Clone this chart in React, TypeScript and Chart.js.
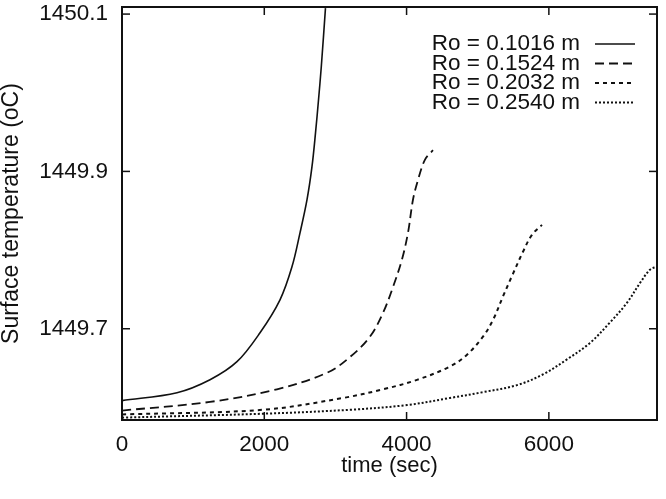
import React, { useEffect, useRef } from "react";
import { Chart, registerables } from "chart.js";
Chart.register(...registerables);

const seriesLabels = ["Ro = 0.1016 m", "Ro = 0.1524 m", "Ro = 0.2032 m", "Ro = 0.2540 m"];

const time1 = [0, 773, 1237, 1616, 1940, 2221, 2389, 2502, 2600, 2670, 2720, 2762, 2801, 2860];
const temp1 = [1449.6086, 1449.6187, 1449.6352, 1449.6581, 1449.6949, 1449.7368, 1449.7787, 1449.8219, 1449.8638, 1449.9057, 1449.9489, 1449.9908, 1450.0327, 1450.1076];

const time2 = [0, 1237, 2178, 2881, 3204, 3486, 3668, 3809, 3935, 4020, 4090, 4160, 4259, 4371];
const temp2 = [1449.596, 1449.607, 1449.623, 1449.644, 1449.664, 1449.69, 1449.72, 1449.753, 1449.788, 1449.822, 1449.864, 1449.889, 1449.915, 1449.927];

const time3 = [0, 1982, 3106, 3668, 4146, 4610, 4849, 5074, 5214, 5355, 5495, 5636, 5762, 5903];
const temp3 = [1449.591, 1449.597, 1449.612, 1449.623, 1449.635, 1449.652, 1449.667, 1449.69, 1449.711, 1449.741, 1449.7698, 1449.7978, 1449.8194, 1449.832];

const time4 = [0, 1982, 3204, 4006, 4610, 5074, 5552, 5917, 6254, 6578, 6859, 7098, 7280, 7421, 7519];
const temp4 = [1449.587, 1449.592, 1449.597, 1449.603, 1449.612, 1449.6194, 1449.6283, 1449.642, 1449.661, 1449.682, 1449.708, 1449.733, 1449.758, 1449.775, 1449.779];

const xTicks = [0, 2000, 4000, 6000];
const yTicks = [1449.7, 1449.9, 1450.1];

const INK = "#111";
const FONT = "'Liberation Sans', Arial, Helvetica, sans-serif";

const framePlugin = {
  id: "frame",
  afterDatasetsDraw(chart: any) {
    const { ctx, chartArea, scales } = chart;
    const { left, right, top, bottom } = chartArea;
    ctx.save();
    ctx.strokeStyle = INK;
    ctx.lineWidth = 2;
    ctx.setLineDash([]);
    ctx.strokeRect(left, top, right - left, bottom - top);
    ctx.lineWidth = 1.5;
    const tl = 8;
    const seg = (x1: number, y1: number, x2: number, y2: number) => {
      ctx.beginPath();
      ctx.moveTo(x1, y1);
      ctx.lineTo(x2, y2);
      ctx.stroke();
    };
    scales.x.ticks.forEach((t: any) => {
      const px = scales.x.getPixelForValue(t.value);
      seg(px, bottom, px, bottom - tl);
      seg(px, top, px, top + tl);
    });
    scales.y.ticks.forEach((t: any) => {
      const py = scales.y.getPixelForValue(t.value);
      seg(left, py, left + tl, py);
      seg(right, py, right - tl, py);
    });
    // legend
    ctx.font = `22.5px ${FONT}`;
    ctx.fillStyle = INK;
    ctx.textAlign = "right";
    ctx.textBaseline = "middle";
    chart.data.datasets.forEach((ds: any, i: number) => {
      const y = top + 37 + i * 19.5;
      ctx.fillText(ds.label, right - 77, y);
      ctx.save();
      ctx.lineWidth = ds.borderWidth;
      ctx.setLineDash(ds.borderDash || []);
      seg(right - 62, y, right - 22, y);
      ctx.restore();
    });
    ctx.restore();
  },
};

export default function App() {
  const ref = useRef<HTMLCanvasElement | null>(null);
  useEffect(() => {
    if (!ref.current) return;
    const mk = (xs: number[], ys: number[]) => xs.map((x, i) => ({ x, y: ys[i] }));
    const tickFont = { family: FONT, size: 22.5, lineHeight: 1.2 };
    const chart = new Chart(ref.current, {
      type: "line",
      data: {
        datasets: [
          { label: seriesLabels[0], data: mk(time1, temp1), borderColor: INK, borderWidth: 1.6, borderDash: [] },
          { label: seriesLabels[1], data: mk(time2, temp2), borderColor: INK, borderWidth: 1.8, borderDash: [9, 5] },
          { label: seriesLabels[2], data: mk(time3, temp3), borderColor: INK, borderWidth: 2, borderDash: [4, 4] },
          { label: seriesLabels[3], data: mk(time4, temp4), borderColor: INK, borderWidth: 2, borderDash: [2, 2] },
        ] as any,
      },
      options: {
        responsive: false,
        animation: false,
        layout: { padding: { left: 0, right: 9, top: 7, bottom: 0 } },
        plugins: { legend: { display: false }, tooltip: { enabled: false } },
        elements: { point: { radius: 0 }, line: { cubicInterpolationMode: "default", tension: 0.35, fill: false } },
        scales: {
          x: {
            type: "linear",
            min: 0,
            max: 7520,
            grid: { display: false, drawTicks: false },
            border: { display: false },
            afterBuildTicks: (s: any) => {
              s.ticks = xTicks.map((v) => ({ value: v }));
            },
            afterFit: (s: any) => {
              s.height = 79;
              s.paddingLeft = 0;
              s.paddingRight = 0;
            },
            ticks: {
              padding: 11,
              color: INK,
              font: tickFont,
              maxRotation: 0,
              autoSkip: false,
              callback: (v: any) => String(v),
            },
            title: {
              display: true,
              text: "time (sec)",
              color: INK,
              font: { family: FONT, size: 22, lineHeight: 1 },
              padding: { top: 0, bottom: 22 },
            },
          },
          y: {
            type: "linear",
            min: 1449.584,
            max: 1450.109,
            grid: { display: false, drawTicks: false },
            border: { display: false },
            afterBuildTicks: (s: any) => {
              s.ticks = yTicks.map((v) => ({ value: v }));
            },
            afterFit: (s: any) => {
              s.width = 122;
              s.paddingTop = 0;
              s.paddingBottom = 0;
            },
            ticks: {
              padding: 14,
              color: INK,
              font: tickFont,
              autoSkip: false,
              callback: (v: any) => Number(v).toFixed(1),
            },
            title: {
              display: true,
              text: "Surface temperature (oC)",
              color: INK,
              font: { family: FONT, size: 23, lineHeight: 1 },
              padding: { top: 0, bottom: 0 },
            },
          },
        },
      } as any,
      plugins: [framePlugin],
    });
    return () => chart.destroy();
  }, []);
  return (
    <div style={{ position: "fixed", left: 0, top: 0, width: 666, height: 499, background: "#fff" }}>
      <canvas ref={ref} width={666} height={499} style={{ display: "block" }} />
    </div>
  );
}
